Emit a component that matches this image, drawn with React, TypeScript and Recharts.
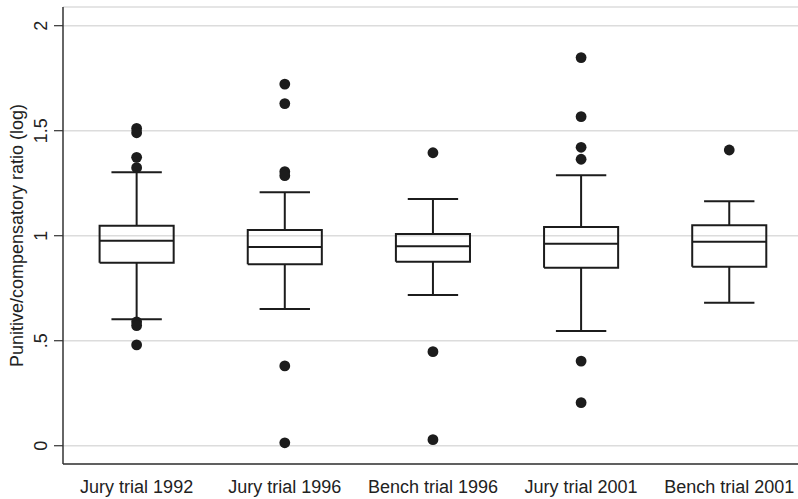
import React from "react";
import {
  ComposedChart,
  Line,
  Scatter,
  XAxis,
  YAxis,
  CartesianGrid,
} from "recharts";

const categories = [
  "Jury trial 1992",
  "Jury trial 1996",
  "Bench trial 1996",
  "Jury trial 2001",
  "Bench trial 2001",
];
const whiskerLow = [0.602, 0.651, 0.718, 0.546, 0.681];
const q1 = [0.871, 0.864, 0.876, 0.848, 0.852];
const median = [0.976, 0.946, 0.95, 0.962, 0.971];
const q3 = [1.048, 1.027, 1.008, 1.041, 1.05];
const whiskerHigh = [1.302, 1.207, 1.175, 1.288, 1.164];
const outliers = [
  [1.511, 1.49, 1.373, 1.324, 0.59, 0.572, 0.48],
  [1.722, 1.629, 1.305, 1.286, 0.38, 0.014],
  [1.395, 0.448, 0.029],
  [1.848, 1.567, 1.421, 1.364, 0.403, 0.205],
  [1.408],
];
const yTicks = [0, 0.5, 1, 1.5, 2];

const BOX_HALF = 0.25;
const CAP_HALF = 0.17;
const INK = "#1c1c1c";
const FONT = "'Liberation Sans', Arial, Helvetica, sans-serif";

type Pt = { x: number; y: number | null };

const segments: Pt[] = [];
categories.forEach((_, k) => {
  const i = k + 1;
  const brk = { x: i, y: null };
  // box
  segments.push(
    { x: i - BOX_HALF, y: q1[k] },
    { x: i + BOX_HALF, y: q1[k] },
    { x: i + BOX_HALF, y: q3[k] },
    { x: i - BOX_HALF, y: q3[k] },
    { x: i - BOX_HALF, y: q1[k] },
    brk
  );
  // median
  segments.push(
    { x: i - BOX_HALF, y: median[k] },
    { x: i + BOX_HALF, y: median[k] },
    { ...brk }
  );
  // whiskers
  segments.push({ x: i, y: q3[k] }, { x: i, y: whiskerHigh[k] }, { ...brk });
  segments.push({ x: i, y: q1[k] }, { x: i, y: whiskerLow[k] }, { ...brk });
  // caps
  segments.push(
    { x: i - CAP_HALF, y: whiskerHigh[k] },
    { x: i + CAP_HALF, y: whiskerHigh[k] },
    { ...brk }
  );
  segments.push(
    { x: i - CAP_HALF, y: whiskerLow[k] },
    { x: i + CAP_HALF, y: whiskerLow[k] },
    { ...brk }
  );
});

const outlierPoints = outliers.flatMap((vals, k) =>
  vals.map((v) => ({ x: k + 1, y: v }))
);

const fmtY = (v: number) =>
  v === 0 ? "0" : v < 1 ? ".5" : String(v);

const YTick = (props: any) => {
  const { y, payload } = props;
  return (
    <g transform={`translate(46.5,${y})`}>
      <text
        transform="rotate(-90)"
        textAnchor="middle"
        x={0}
        y={0}
        fill="#222"
        fontSize={18}
        fontFamily={FONT}
      >
        {fmtY(payload.value)}
      </text>
    </g>
  );
};

const XTick = (props: any) => {
  const { x, payload } = props;
  return (
    <text
      x={x}
      y={492.5}
      textAnchor="middle"
      fill="#222"
      fontSize={18}
      fontFamily={FONT}
    >
      {categories[payload.value - 1]}
    </text>
  );
};

const Dot = (props: any) => {
  const { cx, cy } = props;
  return <circle cx={cx} cy={cy} r={5.4} fill={INK} />;
};

export default function App() {
  return (
    <div style={{ position: "absolute", left: 0, top: 0, background: "#fff" }}>
      <ComposedChart
        width={798}
        height={499}
        margin={{ top: 7, right: 0, bottom: 0, left: 0 }}
      >
        <CartesianGrid
          vertical={false}
          stroke="#dcdcdc"
          strokeWidth={1.5}
        />
        <XAxis
          xAxisId="top"
          orientation="top"
          type="number"
          dataKey="x"
          domain={[0.503, 5.464]}
          allowDataOverflow
          height={0}
          tick={false}
          tickLine={false}
          axisLine={{ stroke: "#333", strokeWidth: 1.5 }}
        />
        <XAxis
          type="number"
          dataKey="x"
          domain={[0.503, 5.464]}
          allowDataOverflow
          ticks={[1, 2, 3, 4, 5]}
          interval={0}
          height={35}
          tickLine={false}
          axisLine={{ stroke: "#333", strokeWidth: 1.5 }}
          tick={<XTick />}
        />
        <YAxis
          type="number"
          domain={[-0.087, 2.089]}
          allowDataOverflow
          ticks={yTicks}
          width={63}
          tickSize={9}
          tickLine={{ stroke: "#333", strokeWidth: 1.2 }}
          axisLine={{ stroke: "#333", strokeWidth: 1.5 }}
          tick={<YTick />}
          label={{
            value: "Punitive/compensatory ratio (log)",
            angle: -90,
            position: "insideLeft",
            content: (p: any) => {
              const vb = p.viewBox || {};
              const cy = (vb.y ?? 7) + (vb.height ?? 457) / 2;
              return (
                <text
                  transform={`translate(23,${cy}) rotate(-90)`}
                  textAnchor="middle"
                  fill="#222"
                  fontSize={18}
                  fontFamily={FONT}
                >
                  Punitive/compensatory ratio (log)
                </text>
              );
            },
          }}
        />
        <Line
          data={segments}
          dataKey="y"
          stroke={INK}
          strokeWidth={2}
          dot={false}
          activeDot={false}
          connectNulls={false}
          type="linear"
          isAnimationActive={false}
        />
        <Scatter
          data={outlierPoints}
          dataKey="y"
          shape={<Dot />}
          isAnimationActive={false}
        />
      </ComposedChart>
    </div>
  );
}
